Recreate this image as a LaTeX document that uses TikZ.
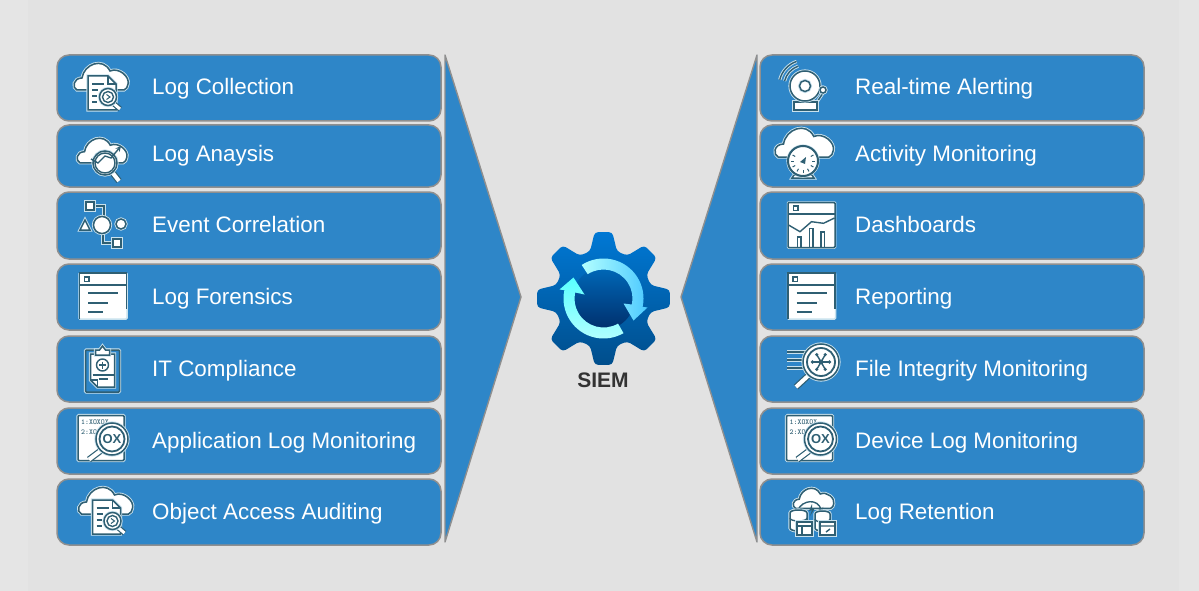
\documentclass[tikz,border=0pt]{standalone}
\usepackage{fontspec}
\setmainfont{Liberation Sans}
\usetikzlibrary{calc}
\definecolor{backgray}{HTML}{E2E2E2}
\definecolor{sidegray}{HTML}{E5E5E5}
\definecolor{boxblue}{HTML}{2E86C8}
\definecolor{edgegray}{HTML}{8F8F8F}
\definecolor{icondark}{HTML}{2F5F73}
\definecolor{iconhalo}{HTML}{C9E2EE}
\definecolor{gearhigh}{HTML}{0078D4}
\definecolor{gearlow}{HTML}{004E8C}
\definecolor{corehigh}{HTML}{0068B8}
\definecolor{corelow}{HTML}{002F6C}
\newcommand{\cloudpath}{(-24,3) .. controls (-29,1) and (-28,-9) .. (-19,-9) .. controls (-17,-23) and (2,-30) .. (9,-16) .. controls (18,-20) and (29,-10) .. (27,-3) .. controls (27,0) and (25,2) .. (23,3) -- cycle}
\tikzset{
  siembox/.style={draw=edgegray,fill=boxblue,line width=1.5pt,rounded corners=12pt,minimum width=384pt,inner sep=0pt},
  boxlabel/.style={text=white,anchor=base west,inner sep=0pt,font=\fontsize{22.4}{26}\selectfont},
  chevron/.style={draw=edgegray,fill=boxblue,line width=1.4pt,line join=round},
  iconshape/.style={fill=white,draw=icondark,line width=1.5pt,preaction={draw=iconhalo,line width=3.2pt}},
  iconline/.style={draw=icondark,line width=1.4pt},
  haloline/.style={draw=icondark,line width=1.4pt,preaction={draw=iconhalo,line width=3.2pt}},
  handle/.style={draw=icondark,line width=1.2pt,double=white,double distance=3pt},
  cloudlog/.pic={
    \path[iconshape] \cloudpath;
    \path[iconshape] (-13,-11) -- (7,-11) -- (15,-3) -- (15,23) -- (-13,23) -- cycle;
    \draw[iconline] (7,-11) -- (7,-3) -- (15,-3);
    \foreach \ya/\xa in {-3/3,3/-3,9/-4,15/-4} \draw[iconline] (-9,\ya) -- (\xa,\ya);
    \path[handle] (12,16) -- (19,22);
    \path[iconshape] (7,10) circle (8.5);
    \draw[iconline] (7,10) circle (5.5);
    \draw[iconline,line width=1pt] (5.5,7.5) -- (9,10) -- (5.5,12.5);
  },
  cloudtrend/.pic={
    \begin{scope}[scale=0.92]
      \path[iconshape] \cloudpath;
    \end{scope}
    \path[handle,double distance=4pt] (10,12) -- (17,21);
    \path[iconshape] (3,3) circle (12);
    \draw[iconline] (3,3) circle (10);
    \draw[iconline,-stealth] (-11,-1) -- (-4,3) -- (3,-4) -- (9,-2) -- (19,-14);
  },
  eventflow/.pic={
    \path[haloline] (-12,-19) -- (2,-19) -- (2,-8);
    \path[haloline] (1,8) -- (1,18) -- (15,18);
    \path[iconshape] (0,0) circle (8.5);
    \path[iconshape] (-22,5) -- (-17,-5) -- (-12,5) -- cycle;
    \path[iconshape] (19,-1) circle (5);
    \path[iconshape] (-16,-23) rectangle (-8,-15);
    \path[iconshape] (11,14) rectangle (19,22);
  },
  logwindow/.pic={
    \path[fill=white,draw=iconhalo,line width=1.5pt,rounded corners=1pt] (-24,-23) rectangle (24,23);
    \draw[iconline,line width=1.5pt] (-23.5,23) -- (-23.5,-23) -- (23.5,-23) -- (23.5,13);
    \draw[iconline,line width=1.5pt] (-24,-11) -- (24,-11);
    \draw[iconline] (-18.5,-19) rectangle (-14,-14.5);
    \draw[iconline] (-15,-3) -- (15,-3);
    \draw[iconline] (-15,7) -- (5,7);
    \draw[iconline] (-15,16) -- (0,16);
  },
  chartwindow/.pic={
    \path[fill=white,draw=iconhalo,line width=1.5pt,rounded corners=1pt] (-24,-23) rectangle (24,23);
    \draw[iconline,line width=1.5pt,rounded corners=1pt] (-23.5,-22.5) rectangle (23.5,22.5);
    \draw[iconline,line width=1.5pt] (-23.5,-11) -- (23.5,-11);
    \draw[iconline] (-18,-19) rectangle (-13.5,-14.5);
    \draw[iconline] (-23,0) -- (-11.5,6.7) -- (0,-3.3) -- (12,-1.7) -- (23,-7);
    \draw[iconline] (-14,22) -- (-14,12) -- (-10.5,12) -- (-10.5,22);
    \draw[iconline] (-2,22) -- (-2,3.5) -- (1.5,3.5) -- (1.5,22);
    \draw[iconline] (9.5,22) -- (9.5,7) -- (13,7) -- (13,22);
  },
  clipcheck/.pic={
    \path[iconshape,fill=boxblue,rounded corners=1pt] (-17,-20) rectangle (17,22);
    \path[iconshape] (-12,-16) -- (12,-16) -- (12,17) -- (-5,17) -- (-12,10) -- cycle;
    \draw[iconline] (-12,10) -- (-5,10) -- (-5,17);
    \path[iconshape] (-7,-20) -- (-3,-20) -- (0,-24) -- (3,-20) -- (7,-20) -- (7,-15) -- (-7,-15) -- cycle;
    \draw[iconline] (0,-5) circle (6);
    \draw[iconline] (-3.5,-5) -- (3.5,-5) (0,-8.5) -- (0,-1.5);
    \draw[iconline] (-10,5) -- (11,5);
    \draw[iconline] (-4,9) -- (5,9);
  },
  oxpaper/.pic={
    \path[iconshape,rounded corners=1pt] (-23,-22) rectangle (23,23);
    \node[text=icondark,anchor=west,inner sep=0pt,font=\ttfamily\bfseries\fontsize{7.5}{9}\selectfont] (oxa) at (-20,-15) {1:XOXOX};
    \node[text=icondark,anchor=west,inner sep=0pt,font=\ttfamily\bfseries\fontsize{7.5}{9}\selectfont] (oxb) at (-20,-5) {2:XO};
    \path[handle,double distance=4pt] (0,13) -- (-12,22);
    \path[iconshape] (11,1.5) circle (16);
    \draw[iconline,line width=1.8pt] (11,1.5) circle (12.5);
    \node[text=icondark,inner sep=0pt,font=\bfseries\fontsize{13}{14}\selectfont] (oxc) at (11,1.5) {OX};
  },
  bellalarm/.pic={
    \draw[haloline] (-166:26) arc (-166:-109:26);
    \draw[haloline] (-166:21) arc (-166:-109:21);
    \path[haloline] (12,16) -- (18,7);
    \path[iconshape] (-11,16) rectangle (12,24);
    \path[iconshape] (0,0) circle (15);
    \path[iconshape] (0,0) circle (5.5);
    \path[iconshape] (18,4) circle (3);
  },
  cloudgauge/.pic={
    \begin{scope}[scale=1.08,shift={(1,-3)}]
      \path[iconshape] \cloudpath;
    \end{scope}
    \path[iconshape] (-9,18) -- (9,18) -- (11,21) -- (-11,21) -- cycle;
    \path[iconshape,line width=2pt] (0,4) circle (15);
    \foreach \ang in {0,30,60,90,120,150,180,210,-30} \draw[iconline,line width=1pt] ($(0,4)+(\ang:12)$) -- ($(0,4)+(\ang:9)$);
    \path[fill=icondark] (-3,5) -- (3,0) -- (2,7) -- cycle;
  },
  fileglass/.pic={
    \foreach \ya in {-10,-2,6} \path[haloline] (-34,\ya) -- (-12,\ya);
    \path[handle,double distance=4pt] (-12,13) -- (-25,25);
    \path[iconshape] (0,0) circle (18);
    \draw[iconline,line width=1.8pt] (0,0) circle (14);
    \foreach \ang in {0,60,120,180,240,300} {
      \draw[iconline] (0,0) -- (\ang:8);
      \path[fill=icondark] (\ang:8.5) circle (1.8);
    }
    \path[fill=icondark] (0,0) circle (2.5);
  },
  cloudstore/.pic={
    \begin{scope}[scale=0.75,shift={(2,-8)}]
      \path[iconshape] \cloudpath;
    \end{scope}
    \draw[iconline,-stealth] (-14,-2) .. controls (-10,-12) and (6,-14) .. (10,1);
    \path[fill=icondark] (0,-8) -- (-3,-1) -- (0,-2) -- (-2,4) -- (3,-4) -- (0,-3) -- cycle;
    \path[iconshape] (-22,1) -- (-22,16) .. controls (-22,20) and (-5,20) .. (-5,16) -- (-5,1) .. controls (-5,-3) and (-22,-3) .. (-22,1) -- cycle;
    \path[iconshape] (3,2) -- (3,16) .. controls (3,20) and (18,20) .. (18,16) -- (18,2) .. controls (18,-2) and (3,-2) .. (3,2) -- cycle;
    \draw[iconline] (-22,6) .. controls (-22,10) and (-5,10) .. (-5,6) (3,7) .. controls (3,11) and (18,11) .. (18,7);
    \path[iconshape] (-15,10) rectangle (0,23);
    \draw[iconline] (-15,14) -- (0,14) (-10,14) -- (-10,23);
    \path[iconshape] (8,10) rectangle (23,23);
    \draw[iconline] (8,14) -- (23,14) (14,20) -- (18,17);
  },
}
\begin{document}
\begin{tikzpicture}[x=1pt,y=-1pt]
  \useasboundingbox (0,0) rectangle (1199,591);
  \fill[sidegray] (0,0) rectangle (1199,591);
  \fill[backgray] (28,0) rectangle (1179,591);

  % funnels either side of the gear
  \path[chevron] (445,55) -- (521,297) -- (445,542) -- cycle;
  \path[chevron] (757,55) -- (681,297) -- (757,542) -- cycle;

  % left column
  \node[siembox,minimum height=66pt] (collect) at (249,88) {};
  \node[siembox,minimum height=62pt] (analysis) at (249,156) {};
  \node[siembox,minimum height=67pt] (correlate) at (249,225.5) {};
  \node[siembox,minimum height=66pt] (forensics) at (249,297) {};
  \node[siembox,minimum height=66pt] (comply) at (249,369) {};
  \node[siembox,minimum height=66pt] (appmon) at (249,441) {};
  \node[siembox,minimum height=66pt] (access) at (249,512) {};

  \node[boxlabel] (collecttxt) at (152,95) {Log Collection};
  \node[boxlabel] (analysistxt) at (152,161) {Log Anaysis};
  \node[boxlabel] (correlatetxt) at (152,232) {Event Correlation};
  \node[boxlabel] (forensicstxt) at (152,304) {Log Forensics};
  \node[boxlabel] (complytxt) at (152,376) {IT Compliance};
  \node[boxlabel] (appmontxt) at (152,448) {Application Log Monitoring};
  \node[boxlabel] (accesstxt) at (152,519) {Object Access Auditing};

  % right column
  \node[siembox,minimum height=66pt] (alert) at (952,88) {};
  \node[siembox,minimum height=62pt] (activity) at (952,156) {};
  \node[siembox,minimum height=67pt] (dash) at (952,225.5) {};
  \node[siembox,minimum height=66pt] (report) at (952,297) {};
  \node[siembox,minimum height=66pt] (integrity) at (952,369) {};
  \node[siembox,minimum height=66pt] (devmon) at (952,441) {};
  \node[siembox,minimum height=66pt] (retain) at (952,512) {};

  \node[boxlabel] (alerttxt) at (855,95) {Real-time Alerting};
  \node[boxlabel] (activitytxt) at (855,161) {Activity Monitoring};
  \node[boxlabel] (dashtxt) at (855,232) {Dashboards};
  \node[boxlabel] (reporttxt) at (855,304) {Reporting};
  \node[boxlabel] (integritytxt) at (855,376) {File Integrity Monitoring};
  \node[boxlabel] (devmontxt) at (855,448) {Device Log Monitoring};
  \node[boxlabel] (retaintxt) at (855,519) {Log Retention};

  % icons
  \pic at (101,87) {cloudlog};
  \pic at (102,160) {cloudtrend};
  \pic at (102,225) {eventflow};
  \pic at (103,296) {logwindow};
  \pic at (102.5,370) {clipcheck};
  \pic at (101,437.5) {oxpaper};
  \pic at (105.5,511) {cloudlog};

  \pic at (805,86) {bellalarm};
  \pic at (803,157) {cloudgauge};
  \pic at (811.5,225) {chartwindow};
  \pic at (811.5,296) {logwindow};
  \pic at (821,362) {fileglass};
  \pic at (809.5,437.5) {oxpaper};
  \pic at (812,512) {cloudstore};

  % gear
  \begin{scope}[shift={(603.5,298.5)},y=1pt]
    \shade[top color=gearhigh,bottom color=gearlow,rounded corners=3.5pt] (-22.5:48.5)
      \foreach \a in {0,45,...,315} { -- (\a-16:49) -- (\a-7.5:67) -- (\a+7.5:67) -- (\a+16:49) } -- cycle;
    \shade[top color=corehigh,bottom color=corelow] (0,0) circle (31);
    \shade[left color=cyan!30!white,right color=cyan!70!blue!70!white] (123:29) arc (123:-12:29) -- (20,-5) -- (30,-22) -- (44,-9) -- (-12:40) arc (-12:123:40) -- cycle;
    \shade[top color=cyan!65!white,bottom color=cyan!30!white] (-60:29) arc (-60:-192:29) -- (-19,4) -- (-30,21) -- (-44,9) -- (-192:40) arc (-192:-60:40) -- cycle;
  \end{scope}
  \node[text=black!80,inner sep=0pt,font=\bfseries\fontsize{21}{24}\selectfont] (siem) at (603,380) {SIEM};
\end{tikzpicture}
\end{document}
